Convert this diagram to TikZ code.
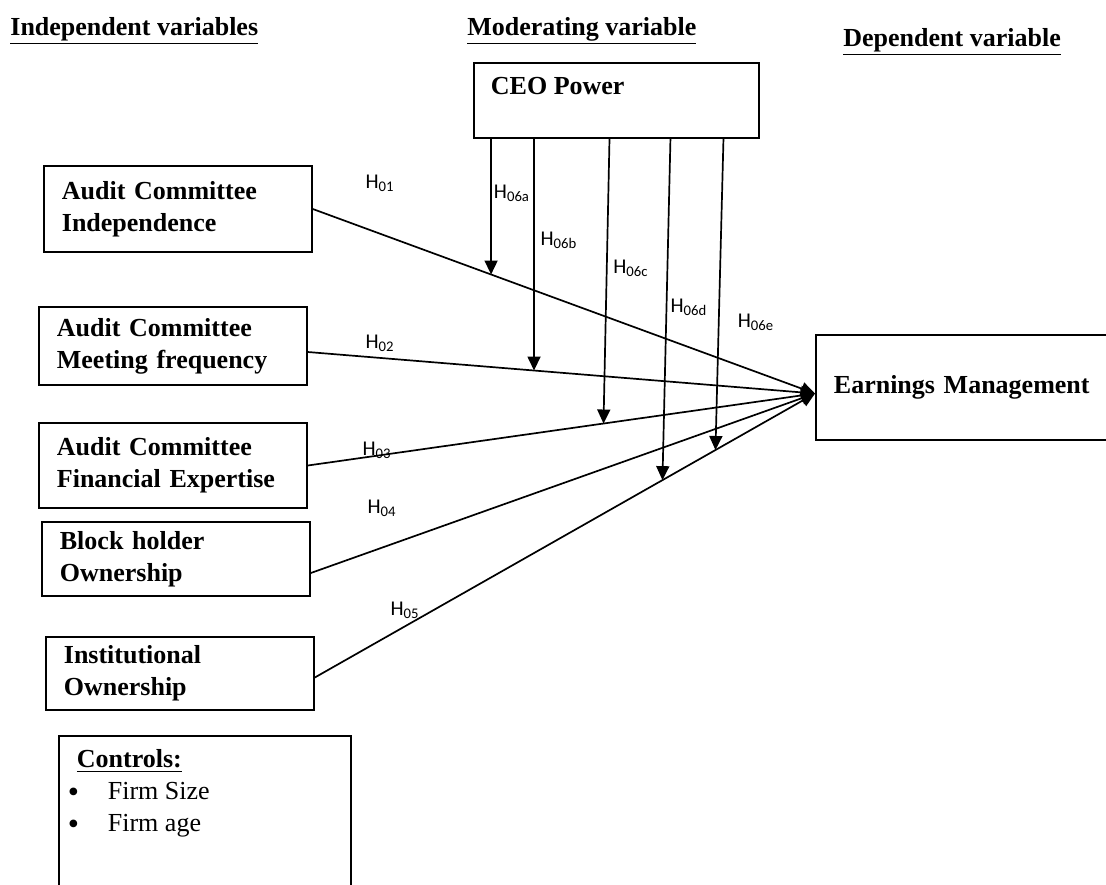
\documentclass[tikz,border=0pt]{standalone}
\usepackage{fontspec}
\setmainfont{Liberation Serif}
\newfontfamily\hypfont{Carlito}
\usetikzlibrary{arrows.meta, calc}
\newcommand{\bigdot}{\makebox[20pt][l]{\smash{\raisebox{-1.5pt}{\fontsize{16}{16}\selectfont\textbullet}}}}
\tikzset{
    varbox/.style={
        rectangle,
        draw,
        line width=0.9pt,
        anchor=west,
        minimum width=134pt,
        text width=116pt,
        inner xsep=9pt,
        align=left,
        font=\fontsize{13}{16}\selectfont\bfseries
    },
    heading/.style={anchor=base west, inner sep=0pt, font=\fontsize{13}{16}\selectfont\bfseries},
    hyplabel/.style={inner sep=0pt, font=\fontsize{10.5}{12}\selectfont\hypfont},
    linkarrow/.style={-{Triangle[length=7pt, width=6.5pt]}, line width=0.85pt}
}

\begin{document}
\begin{tikzpicture}[x=0.5pt, y=-0.5pt]
\useasboundingbox (0,0) rectangle (1106,884);
% headings
\node[heading] (hind) at (10,35) {\underline{Independent variables}};
\node[heading] (hmod) at (467,35) {\underline{Moderating variable}};
\node[heading] (hdep) at (843,46) {\underline{Dependent variable}};

% boxes
\node[varbox, minimum height=43pt] (aci) at (43,209) {Audit Committee\\Independence};
\node[varbox, minimum height=39pt] (acm) at (38,346) {Audit Committee\\Meeting frequency};
\node[varbox, minimum height=42.5pt] (acf) at (38,465.5) {Audit Committee\\Financial Expertise};
\node[varbox, minimum height=37pt] (bho) at (41,559) {Block holder\\Ownership};
\node[varbox, minimum height=36.5pt] (ino) at (45,673.5) {Institutional\\Ownership};
\node[varbox, minimum width=160pt, text width=142pt, minimum height=52.5pt] (em) at (815,387.5) {Earnings Management};
\node[draw, line width=0.9pt, anchor=north west, inner xsep=8.5pt, inner ysep=7pt,
      font=\fontsize{13}{16}\selectfont\bfseries] (ceo) at (473,62)
      {\parbox[c][23.5pt][t]{125.5pt}{CEO Power}};
\node[draw, line width=0.9pt, anchor=north west, inner xsep=4.5pt, inner ysep=7pt,
      font=\fontsize{13}{16}\selectfont] (ctrl) at (58,735)
      {\parbox[c][150pt][t]{137pt}{\hspace*{4.5pt}\underline{\textbf{Controls:}}\\
       \bigdot Firm Size\\
       \bigdot Firm age}};

% direct paths
\coordinate (emin) at ($(em.west)+(0,6)$);
\coordinate (s2) at ([yshift=-3pt]acm.east);
\coordinate (s4) at ([yshift=-7pt]bho.east);
\coordinate (s5) at ([yshift=-2pt]ino.east);
\draw[linkarrow] (aci.east) -- (emin);
\draw[linkarrow] (s2) -- (emin);
\draw[linkarrow] (acf.east) -- (emin);
\draw[linkarrow] (s4) -- (emin);
\draw[linkarrow] (s5) -- (emin);

% moderating paths
\coordinate (m1) at ($(aci.east)!0.355!(emin)$);
\coordinate (m2) at ($(s2)!0.446!(emin)$);
\coordinate (m3) at ($(acf.east)!0.583!(emin)$);
\coordinate (m4) at ($(s5)!0.695!(emin)$);
\coordinate (m5) at ($(s5)!0.801!(emin)$);
\draw[linkarrow] (ceo.south -| m1) -- (m1);
\draw[linkarrow] (ceo.south -| m2) -- (m2);
\draw[linkarrow] ($(ceo.south -| m3)+(6,0)$) -- (m3);
\draw[linkarrow] ($(ceo.south -| m4)+(8,0)$) -- (m4);
\draw[linkarrow] ($(ceo.south -| m5)+(8,0)$) -- (m5);

% labels
\node[hyplabel] (h01) at (380,183) {H\textsubscript{01}};
\node[hyplabel] (h02) at (380,343) {H\textsubscript{02}};
\node[hyplabel] (h03) at (377,450) {H\textsubscript{03}};
\node[hyplabel] (h04) at (382,508) {H\textsubscript{04}};
\node[hyplabel] (h05) at (405,610) {H\textsubscript{05}};
\node[hyplabel] (h6a) at (512,193) {H\textsubscript{06a}};
\node[hyplabel] (h6b) at (559,240) {H\textsubscript{06b}};
\node[hyplabel] (h6c) at (631,268) {H\textsubscript{06c}};
\node[hyplabel] (h6d) at (689,307) {H\textsubscript{06d}};
\node[hyplabel] (h6e) at (756,322) {H\textsubscript{06e}};
\end{tikzpicture}
\end{document}
